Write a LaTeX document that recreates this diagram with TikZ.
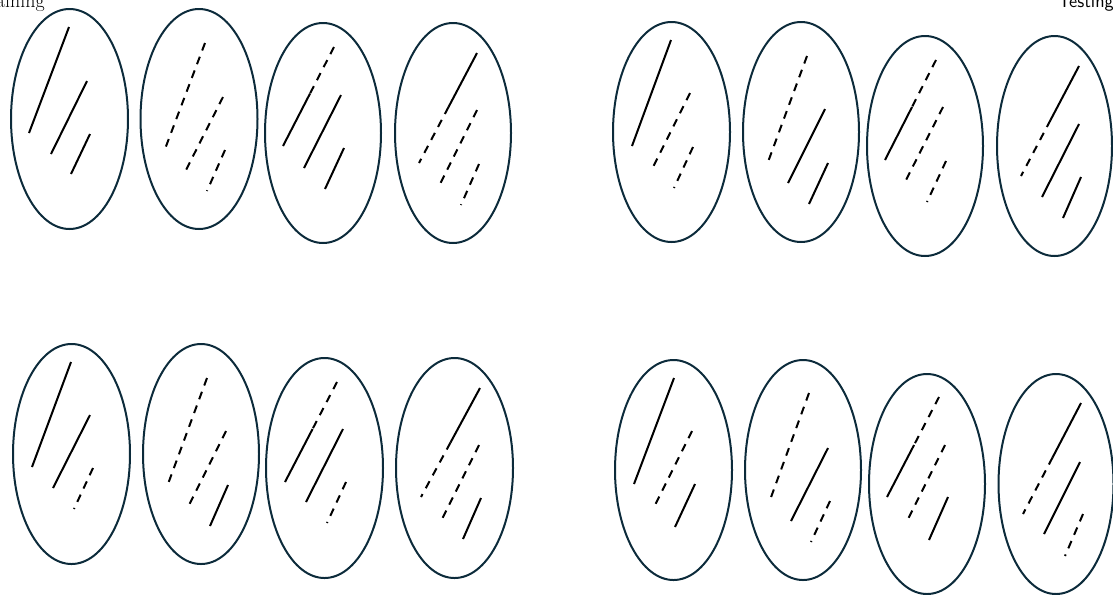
\documentclass[tikz,border=0pt]{standalone}
\usetikzlibrary{calc}
\definecolor{ellcol}{HTML}{0C2B3B}
\newcommand{\dashsolid}[3]{% dashed upper part, solid lower part
  \draw[dl] #1 -- ($#1!#3!#2$);
  \draw[sl] ($#1!#3!#2$) -- #2;}
\newcommand{\soliddash}[3]{% solid upper part, dashed lower part
  \draw[sl] #1 -- ($#1!#3!#2$);
  \draw[dl] ($#1!#3!#2$) -- #2;}
\begin{document}
\begin{tikzpicture}[x=0.75pt,y=-0.75pt,
  ell/.style={draw=ellcol, line width=1.5pt},
  sl/.style={draw=black, line width=1.5pt},
  dl/.style={sl, dash pattern=on 6pt off 5pt}]
\useasboundingbox (0,0) rectangle (1113,594);
% labels cut off at the top edge
\node[anchor=base east, inner sep=0pt, font=\fontsize{15}{18}\selectfont] (lt) at (45,7) {Training};
\node[anchor=base west, inner sep=0pt, font=\fontsize{14}{17}\selectfont\sffamily] (rt) at (1058,7.5) {Testing};
% ---------- top-left group ----------
\draw[ell] (69.5,119) ellipse (58.5 and 110);
\draw[ell] (199,119) ellipse (58.5 and 110);
\draw[ell] (323,133) ellipse (58 and 110);
\draw[ell] (453,133) ellipse (58 and 110);
\draw[sl] (69,27) -- (29,133);
\draw[sl] (87,81) -- (51,154);
\draw[sl] (90,134) -- (71,174);
\draw[dl] (205,43) -- (165,149);
\draw[dl] (223,97) -- (186,170);
\draw[dl] (225,150) -- (207,191);
\dashsolid{(334,47)}{(283,146)}{0.47}
\draw[sl] (341,95) -- (304,168);
\draw[sl] (344,148) -- (325,189);
\soliddash{(477,53)}{(419,163)}{0.49}
\draw[dl] (477,110) -- (440,184);
\draw[dl] (479,164) -- (461,205);
% ---------- top-right group ----------
\draw[ell] (671.5,132) ellipse (58.5 and 110);
\draw[ell] (801,132) ellipse (58 and 110);
\draw[ell] (925,146) ellipse (58 and 110);
\draw[ell] (1054.5,146) ellipse (57.5 and 110);
\draw[sl] (671,40) -- (632,146);
\draw[dl] (690,93) -- (653,167);
\draw[dl] (693,147) -- (674,188);
\draw[dl] (807,56) -- (768,162);
\draw[sl] (825,109) -- (788,183);
\draw[sl] (828,163) -- (809,204);
\dashsolid{(936,60)}{(885,160)}{0.47}
\draw[dl] (943,107) -- (906,180);
\draw[dl] (946,161) -- (927,202);
\soliddash{(1079,66)}{(1021,176)}{0.49}
\draw[sl] (1079,124) -- (1042,197);
\draw[sl] (1081,177) -- (1063,218);
% ---------- bottom-left group ----------
\draw[ell] (71.5,454) ellipse (58.5 and 110);
\draw[ell] (201,454) ellipse (58 and 110);
\draw[ell] (324.5,468) ellipse (58.5 and 110);
\draw[ell] (454.5,468) ellipse (58.5 and 110);
\draw[sl] (71,362) -- (32,467);
\draw[sl] (90,415) -- (53,488);
\draw[dl] (93,468) -- (74,509);
\draw[dl] (207,378) -- (168,484);
\draw[dl] (226,431) -- (189,505);
\draw[sl] (228,485) -- (210,526);
\dashsolid{(337,382)}{(285,482)}{0.47}
\draw[sl] (343,429) -- (306,502);
\draw[dl] (346,482) -- (327,523);
\soliddash{(480,388)}{(421,497)}{0.5}
\draw[dl] (479,445) -- (442,519);
\draw[sl] (481,498) -- (463,539);
% ---------- bottom-right group ----------
\draw[ell] (673.5,470) ellipse (58.5 and 110);
\draw[ell] (803,470) ellipse (58 and 110);
\draw[ell] (927,484) ellipse (58 and 110);
\draw[ell] (1056,484) ellipse (57.5 and 110);
\draw[sl] (674,378) -- (634,484);
\draw[dl] (692,431) -- (655,505);
\draw[sl] (695,484) -- (675,527);
\draw[dl] (809,393) -- (770,500);
\draw[sl] (828,448) -- (791,521);
\draw[dl] (830,501) -- (811,542);
\dashsolid{(939,397)}{(887,497)}{0.48}
\draw[dl] (945,445) -- (908,519);
\draw[sl] (948,497) -- (929,540);
\soliddash{(1081,403)}{(1023,514)}{0.49}
\draw[sl] (1080,462) -- (1044,534);
\draw[dl] (1083,514) -- (1065,556);
\end{tikzpicture}
\end{document}
